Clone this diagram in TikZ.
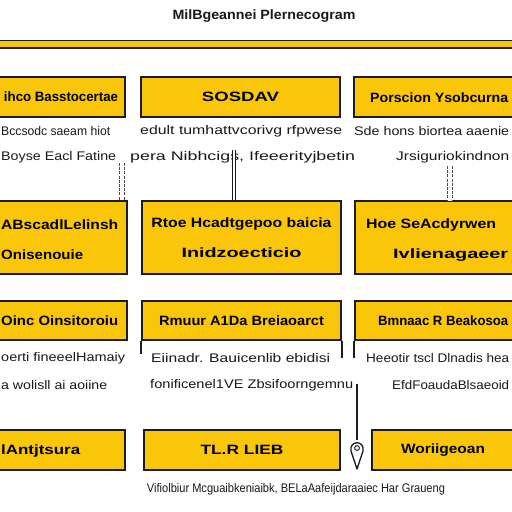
\documentclass[tikz,border=0pt]{standalone}
\usepackage{fontspec}
\usepackage{graphicx}
\setmainfont{Liberation Sans}
\definecolor{boxyellow}{RGB}{250,198,10}
\definecolor{boxline}{RGB}{28,28,40}
\definecolor{bodytext}{RGB}{24,24,30}
\newcommand{\fitw}[2]{\resizebox{#1pt}{\height}{#2}}
\begin{document}
\begin{tikzpicture}[x=1pt,y=-1pt,
  box/.style={draw=boxline, fill=boxyellow, line width=1.8pt, inner sep=0pt,
    font=\bfseries\fontsize{13.5}{30}\selectfont, text=black, align=center},
  lbl/.style={font=\bfseries\fontsize{13.5}{16}\selectfont, inner sep=0pt, text=black},
  body/.style={font=\fontsize{12.5}{14}\selectfont, inner sep=0pt, text=bodytext},
  ladder/.style={draw=black!70, line width=1.1pt, double, double distance=3.4pt,
    dash pattern=on 3pt off 1.2pt},
  leg/.style={draw=boxline, line width=1.8pt}]
\useasboundingbox (0,0) rectangle (512,512);
\fill[white] (0,0) rectangle (512,512);

% title
\node[font=\bfseries\fontsize{13.5}{15}\selectfont, inner sep=0pt, text=bodytext] (title) at (264,16) {\fitw{183}{MilBgeannei Plernecogram}};
% band
\draw[fill=boxyellow, draw=boxline, line width=1.4pt] (-2,40.5) rectangle (514,48);

% row 1
\node[box, minimum width=128, minimum height=40] (b11) at (61,97) {\fitw{114}{ihco Basstocertae}};
\node[box, minimum width=199, minimum height=40] (b12) at (240.5,97) {\fitw{77}{SOSDAV}};
\node[box, minimum width=160, minimum height=40] (b13) at (434,97) {};
\node[lbl, anchor=west] (l13) at (370,98) {\fitw{138}{Porscion Ysobcurna}};

\node[body, anchor=west] (t11a) at (1,131) {\fitw{109}{Bccsodc saeam hiot}};
\node[body, anchor=west] (t11b) at (1,157) {\fitw{115}{Boyse Eacl Fatine}};
\node[body, anchor=west] (t12a) at (140,131) {\fitw{202}{edult tumhattvcorivg rfpwese}};
\node[body, anchor=west] (t12b) at (130,157) {\fitw{225}{pera Nibhcigs, Ifeeerityjbetin}};
\node[body, anchor=west] (t13a) at (354,131) {\fitw{155}{Sde hons biortea aaenie}};
\node[body, anchor=west] (t13b) at (396,157) {\fitw{113}{Jrsiguriokindnon}};

% row 2
\node[box, minimum width=129, minimum height=73] (b21) at (62.5,237.5) {};
\node[lbl, anchor=west] (l21a) at (1,225) {\fitw{117}{ABscadlLelinsh}};
\node[lbl, anchor=west] (l21b) at (1,255) {\fitw{82}{Onisenouie}};
\node[box, minimum width=199, minimum height=73] (b22) at (241.5,237.5) {\fitw{180}{Rtoe Hcadtgepoo baicia}\\\fitw{120}{Inidzoecticio}};
\node[box, minimum width=159, minimum height=73] (b23) at (434.5,237.5) {};
\node[lbl, anchor=west] (l23a) at (366,225) {\fitw{130}{Hoe SeAcdyrwen}};
\node[lbl, anchor=west] (l23b) at (393,255) {\fitw{115}{Ivlienagaeer}};

% connectors row1 -> row2
\coordinate (c1a) at (122,163);
\draw[ladder] (c1a) -- (c1a |- b21.north);
\coordinate (c2a) at (234,150);
\draw[draw=boxline, line width=0.9pt, double, double distance=1.8pt] (c2a) -- (c2a |- b22.north);
\coordinate (c3a) at (450,166);
\draw[ladder] (c3a) -- (c3a |- b23.north);

% row 3
\node[box, minimum width=129, minimum height=39] (b31) at (62.5,320.5) {};
\node[lbl, anchor=west] (l31) at (1,321) {\fitw{117}{Oinc Oinsitoroiu}};
\node[box, minimum width=199, minimum height=39] (b32) at (241.5,320.5) {\fitw{165}{Rmuur A1Da Breiaoarct}};
\node[box, minimum width=159, minimum height=39] (b33) at (434.5,320.5) {};
\node[lbl, anchor=west] (l33) at (378,321) {\fitw{130}{Bmnaac R Beakosoa}};
\draw[leg] (b32.south west) -- ++(0,13);
\draw[leg] (b32.south east) -- ++(0,17);
\draw[leg] (b33.south west) -- ++(0,17);

\node[body, anchor=west] (t31a) at (1,358) {\fitw{124}{oerti fineeelHamaiy}};
\node[body, anchor=west] (t31b) at (1,385) {\fitw{106}{a wolisll ai aoiine}};
\node[body, anchor=west] (t32a) at (151,358) {\fitw{179}{Eiinadr. Bauicenlib ebidisi}};
\node[body, anchor=west] (t32b) at (150,385) {\fitw{203}{fonificenel1VE Zbsifoorngemnu}};
\node[body, anchor=west] (t33a) at (366,358) {\fitw{143}{Heeotir tscl Dlnadis hea}};
\node[body, anchor=west] (t33b) at (392,385) {\fitw{117}{EfdFoaudaBlsaeoid}};

% row 4
\node[box, minimum width=128, minimum height=40] (b41) at (61,450) {};
\node[lbl, anchor=west] (l41) at (1,451) {\fitw{79}{lAntjtsura}};
\node[box, minimum width=196, minimum height=40] (b42) at (242,450) {\fitw{83}{TL.R LIEB}};
\node[box, minimum width=142, minimum height=40] (b43) at (443,450) {\fitw{84}{Woriigeoan}};

% pin arrow
\coordinate (pinstart) at (357,384);
\coordinate (pintop) at (357,440);
\draw[draw=boxline, line width=1.5pt] (pinstart) -- (pintop);
\draw[draw=boxline, fill=white, line width=1.3pt, line join=round]
  (357,469) -- (351,451) .. controls (349,440) and (365,440) .. (363,451) -- cycle;
\draw[draw=boxline, line width=1pt] (357,448) circle (2.4);

% footer
\node[body] (foot) at (296,489) {\fitw{298}{Vifiolbiur Mcguaibkeniaibk, BELaAafeijdaraaiec Har Graueng}};
\end{tikzpicture}
\end{document}
